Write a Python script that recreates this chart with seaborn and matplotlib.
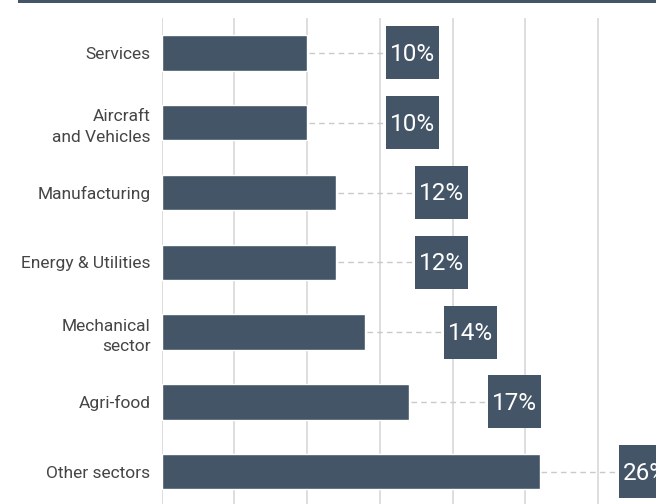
import matplotlib
matplotlib.use("Agg")
import matplotlib.pyplot as plt
from matplotlib.patches import Rectangle
from matplotlib import font_manager
import seaborn as sns
import pandas as pd

# Share of companies by sector (%)
sectors = [
    "Services",
    "Aircraft\nand Vehicles",
    "Manufacturing",
    "Energy & Utilities",
    "Mechanical\nsector",
    "Agri-food",
    "Other sectors",
]
shares = [10, 10, 12, 12, 14, 17, 26]
value_labels = ["10%", "10%", "12%", "12%", "14%", "17%", "26%"]

BAR_COLOR = "#435566"
GRID_COLOR = "#d4d4d4"
TEXT_COLOR = "#454545"

sns.set_theme(style="white")
available = {f.name for f in font_manager.fontManager.ttflist}
family = [f for f in ["Liberation Sans Narrow", "Roboto", "DejaVu Sans"] if f in available]
plt.rcParams["font.family"] = family

df = pd.DataFrame({"sector": sectors, "share": shares})

fig = plt.figure(figsize=(6.56, 5.04), dpi=100)
ax = fig.add_axes([161.7 / 656, -2.6 / 504, 494.3 / 656, 488.6 / 504])

sns.barplot(data=df, y="sector", x="share", orient="h", color=BAR_COLOR,
            width=0.51, saturation=1, ax=ax, zorder=2)

ax.set_xlim(0, 33.97)
ax.set_ylim(6.5, -0.5)
ax.set_xticks(range(0, 31, 5))
ax.xaxis.grid(True, color=GRID_COLOR, linewidth=1.1)
ax.yaxis.grid(False)
ax.set_axisbelow(True)
for s in ax.spines.values():
    s.set_visible(False)
ax.tick_params(axis="both", length=0)
ax.set_xticklabels([])
ax.set_xlabel("")
ax.set_ylabel("")
ax.tick_params(axis="y", pad=8, labelsize=12.5, labelcolor=TEXT_COLOR)
for lab in ax.get_yticklabels():
    lab.set_horizontalalignment("right")
    lab.set_multialignment("right")
    lab.set_linespacing(1.45)

# value callouts: dashed leader from bar end to a dark label box
box_gap = 5.4
box_w = 3.64
box_h = 0.76
for i, (v, txt) in enumerate(zip(shares, value_labels)):
    x0 = v + box_gap
    ax.plot([v + 0.1, x0], [i, i], color="#c9c9c9", linewidth=1.0,
            linestyle=(0, (4, 3)), zorder=1)
    ax.add_patch(Rectangle((x0, i - box_h / 2), box_w, box_h,
                           facecolor=BAR_COLOR, edgecolor="none", zorder=3))
    ax.text(x0 + box_w / 2, i + 0.02, txt, color="white", fontsize=17.5,
            ha="center", va="center", zorder=4, clip_on=True)

# dark rule across the top
fig.add_artist(Rectangle((18 / 656, 1 - 2.7 / 504), 1 - 18 / 656, 2.7 / 504,
                         transform=fig.transFigure, facecolor=BAR_COLOR,
                         edgecolor="none"))

fig.savefig("out.png", dpi=100)
